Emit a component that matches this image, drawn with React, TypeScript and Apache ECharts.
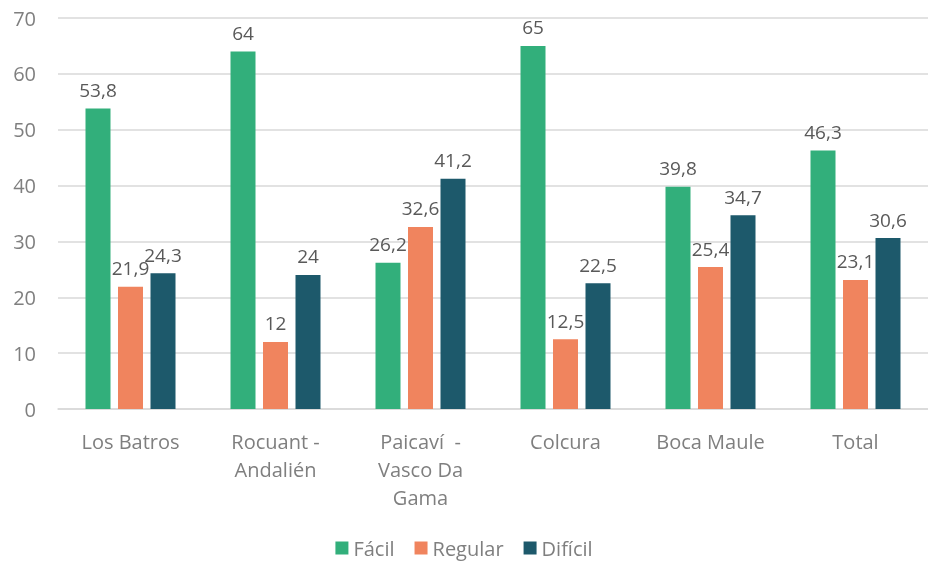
import React, { useEffect, useRef } from "react";
import * as echarts from "echarts";

const categories = [
  "Los Batros",
  "Rocuant -\nAndalién",
  "Paicaví  -\nVasco Da\nGama",
  "Colcura",
  "Boca Maule",
  "Total",
];
const facil = [53.8, 64, 26.2, 65, 39.8, 46.3];
const regular = [21.9, 12, 32.6, 12.5, 25.4, 23.1];
const dificil = [24.3, 24, 41.2, 22.5, 34.7, 30.6];
const seriesNames = ["Fácil", "Regular", "Difícil"];
const colors = ["#32AF7B", "#F0845E", "#1D596B"];

const FONT = "'Open Sans', 'Noto Sans', sans-serif";

export default function App() {
  const ref = useRef<HTMLDivElement>(null);
  useEffect(() => {
    if (!ref.current) return;
    const chart = echarts.init(ref.current, undefined, { renderer: "svg" });
    const label = {
      show: true,
      position: "top" as const,
      distance: 9,
      color: "#595959",
      fontFamily: FONT,
      fontSize: 19,
      formatter: (p: any) => String(p.value).replace(".", ","),
    };
    const datasets = [facil, regular, dificil];
    chart.setOption({
      animation: false,
      grid: { left: 58, right: -6, top: 18, bottom: 154, containLabel: false },
      legend: {
        data: seriesNames,
        bottom: 0,
        left: "center",
        icon: "rect",
        itemWidth: 13,
        itemHeight: 13,
        itemGap: 20,
        textStyle: { color: "#7F7F7F", fontSize: 20, fontFamily: FONT },
      },
      xAxis: {
        type: "category",
        data: categories,
        axisLine: { show: true, lineStyle: { color: "#D9D9D9", width: 1.5 } },
        axisTick: { show: false },
        axisLabel: {
          color: "#7F7F7F",
          fontSize: 20,
          fontFamily: FONT,
          lineHeight: 28,
          margin: 18,
          interval: 0,
        },
      },
      yAxis: {
        type: "value",
        min: 0,
        max: 70,
        interval: 10,
        axisLine: { show: false },
        axisTick: { show: false },
        splitLine: { lineStyle: { color: "#D9D9D9", width: 1.5 } },
        axisLabel: {
          color: "#7F7F7F",
          fontSize: 20,
          fontFamily: FONT,
          margin: 22,
        },
      },
      series: seriesNames.map((name, i) => ({
        name,
        type: "bar",
        data: datasets[i],
        barWidth: 25,
        barGap: "30%",
        itemStyle: { color: colors[i] },
        label,
      })),
    });
    return () => chart.dispose();
  }, []);
  return (
    <div
      ref={ref}
      style={{ position: "fixed", left: 0, top: 0, width: 928, height: 563 }}
    />
  );
}
